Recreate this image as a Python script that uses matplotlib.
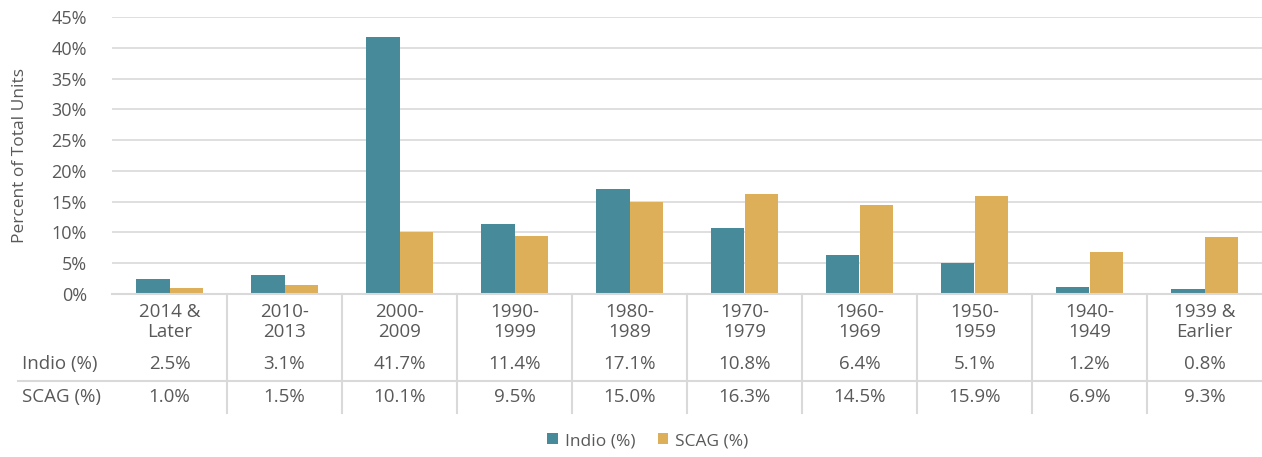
import numpy as np
import matplotlib.pyplot as plt
from matplotlib.ticker import PercentFormatter

plt.rcParams['font.family'] = ['Open Sans', 'DejaVu Sans']

# Data
categories = ['2014 &\nLater', '2010-\n2013', '2000-\n2009', '1990-\n1999', '1980-\n1989',
              '1970-\n1979', '1960-\n1969', '1950-\n1959', '1940-\n1949', '1939 &\nEarlier']
indio = [2.5, 3.1, 41.7, 11.4, 17.1, 10.8, 6.4, 5.1, 1.2, 0.8]
scag = [1.0, 1.5, 10.1, 9.5, 15.0, 16.3, 14.5, 15.9, 6.9, 9.3]
series_names = ['Indio (%)', 'SCAG (%)']

teal = '#478A99'
gold = '#DDAF58'
grey_txt = '#595959'
grid_col = '#D9D9D9'

W, H = 1262, 457
fig = plt.figure(figsize=(W / 100, H / 100), dpi=100)

# plot area in pixels
left, right, top, bottom = 112, 1262, 17, 294
ax = fig.add_axes([left / W, 1 - bottom / H, (right - left) / W, (bottom - top) / H])

n = len(categories)
x = np.arange(n)
bw = 0.287
ax.bar(x - bw / 2, indio, bw, color=teal, label=series_names[0])
ax.bar(x + bw / 2, scag, bw, color=gold, label=series_names[1])

ax.set_xlim(-0.5, n - 0.5)
ax.set_ylim(0, 45)
ax.set_yticks(np.arange(0, 46, 5))
ax.yaxis.set_major_formatter(PercentFormatter(decimals=0))
ax.tick_params(axis='y', length=0, labelsize=13, labelcolor=grey_txt, pad=18)
ax.tick_params(axis='x', length=0, labelbottom=False)
ax.grid(axis='y', color=grid_col, linewidth=1.2)
ax.set_axisbelow(True)
for s in ['top', 'right', 'left']:
    ax.spines[s].set_visible(False)
ax.spines['bottom'].set_color(grid_col)
ax.spines['bottom'].set_linewidth(1.5)
ax.set_ylabel('Percent of Total Units', fontsize=12.5, color=grey_txt)
ax.yaxis.set_label_coords(-(left - 28) / (right - left), 0.5)

# data table below the axis
tr = ax.get_xaxis_transform()
def yf(p):
    return (bottom - p) / (bottom - top)

for i in range(n):
    ax.text(x[i], yf(322), categories[i], transform=tr, ha='center', va='center',
            fontsize=13.5, color=grey_txt, linespacing=1.1)
    ax.text(x[i], yf(364), f'{indio[i]:.1f}%', transform=tr, ha='center', va='center',
            fontsize=13.5, color=grey_txt)
    ax.text(x[i], yf(397), f'{scag[i]:.1f}%', transform=tr, ha='center', va='center',
            fontsize=13.5, color=grey_txt)

for b in np.arange(0.5, n - 1, 1):
    ax.plot([b, b], [yf(294), yf(413)], transform=tr, color=grid_col, lw=1.5, clip_on=False)

fig.add_artist(plt.Line2D([18 / W, 1], [1 - 381 / H, 1 - 381 / H], color=grid_col, lw=1.5))
fig.text(22 / W, 1 - 364 / H, series_names[0], ha='left', va='center', fontsize=13.5, color=grey_txt)
fig.text(22 / W, 1 - 397 / H, series_names[1], ha='left', va='center', fontsize=13.5, color=grey_txt)

fig.legend(loc='center', bbox_to_anchor=(648 / W, 1 - 441 / H), ncol=2, frameon=False,
           fontsize=12.5, labelcolor=grey_txt, handlelength=0.6, handleheight=0.6,
           handletextpad=0.4, columnspacing=1.3)

fig.savefig('out.png', dpi=100)
